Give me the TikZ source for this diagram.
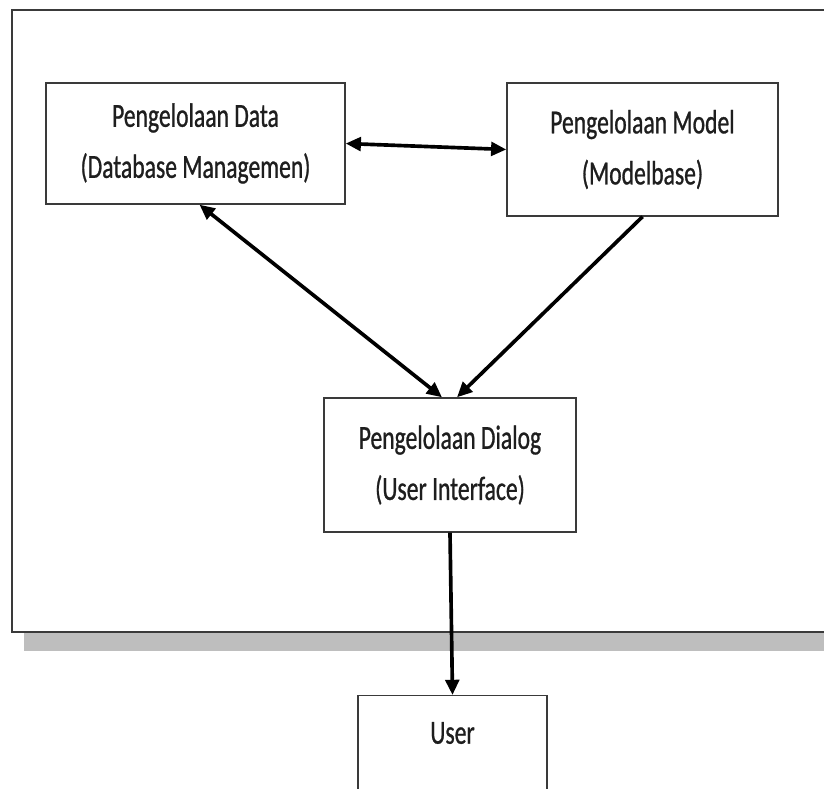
\documentclass[tikz,border=0pt]{standalone}
\usepackage{fontspec}
\setmainfont{Carlito}[FakeStretch=0.7,FakeBold=0.8]
\usetikzlibrary{arrows.meta,calc,positioning}
\definecolor{garisKotak}{HTML}{3A3A3A}
\definecolor{bayangan}{HTML}{BEBEBE}
\definecolor{teksGelap}{HTML}{1E1E1E}

\begin{document}
\begin{tikzpicture}[every node/.style={font=\fontsize{24}{36.3}\selectfont,text=teksGelap},
  kotak/.style={draw=garisKotak,line width=1pt,fill=white,align=center,inner sep=0pt},
  panah/.style={line width=2.6pt,>={Triangle[length=0.38cm,width=0.34cm]}}]
\useasboundingbox (0,0) rectangle (20.6,-19.725);
% bingkai luar dan bayangannya
\fill[bayangan] (0.6,-15.8) rectangle (21,-16.275);
\draw[garisKotak,line width=1.2pt] (21,-0.25) -- (0.3,-0.25) -- (0.3,-15.8) -- (21,-15.8);
\node[kotak,minimum width=7.475cm,minimum height=3.025cm] (data) at (4.8875,-3.5875) {Pengelolaan Data\\(Database Managemen)};
\node[kotak,minimum width=6.775cm,minimum height=3.325cm] (model) at (16.0625,-3.7375) {Pengelolaan Model\\(Modelbase)};
\node[kotak,minimum width=6.3cm,minimum height=3.35cm] (dialog) at (11.25,-11.625) {Pengelolaan Dialog\\(User Interface)};
\node[kotak,minimum width=4.725cm,text height=1.2cm,text depth=1.6cm,anchor=north] (user) at (11.3125,-17.375) {User};
% panah
\draw[panah,<->] (data.east) -- (model.west);
\draw[panah,<->] ($(data.south)+(0.1,0)$) -- ($(dialog.north)+(-0.2,0)$);
\draw[panah,->] (model.south) -- ($(dialog.north)+(0.175,0)$);
\draw[panah,->] (dialog.south) -- (user.north);
\end{tikzpicture}
\end{document}
